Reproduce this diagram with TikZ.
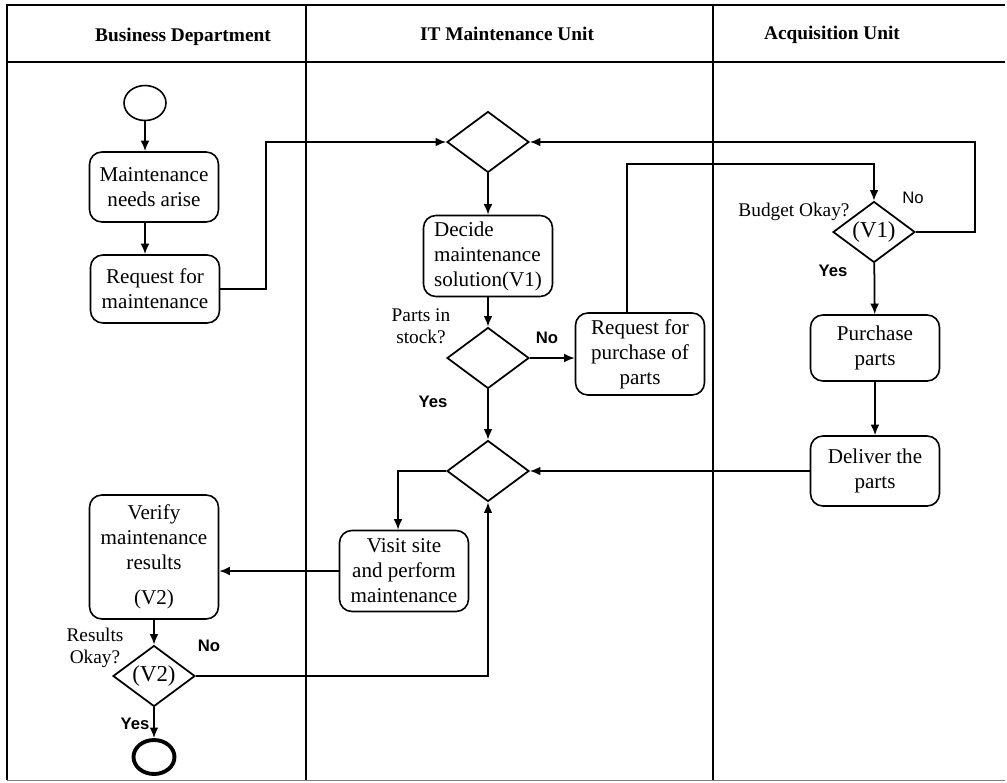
\documentclass[tikz,border=0pt]{standalone}
\usepackage{fontspec}
\setmainfont{Liberation Serif}
\setsansfont{Liberation Sans}
\usetikzlibrary{shapes.geometric,arrows.meta}

\tikzset{
  box/.style={draw,rounded corners=7pt,line width=0.9pt,minimum width=2.58cm,align=center,inner sep=2pt,font=\fontsize{12}{14.2}\selectfont},
  decision/.style={draw,diamond,aspect=1.34,minimum width=1.64cm,minimum height=1.22cm,inner sep=0pt,line width=1pt,font=\fontsize{13}{15}\selectfont},
  lane/.style={anchor=base,font=\fontsize{11}{13}\selectfont\bfseries},
  cond/.style={align=center,inner sep=0pt,font=\fontsize{11}{12.5}\selectfont},
  answer/.style={inner sep=0pt,font=\sffamily\bfseries\fontsize{9.5}{11}\selectfont},
  flow/.style={-{Latex[length=6pt,width=5pt]},line width=1pt}
}

\begin{document}
\begin{tikzpicture}[x=0.02cm,y=-0.02cm]

\useasboundingbox (0,0) rectangle (1007,782);

% swimlanes
\draw[line width=0.9pt] (1005,5)--(7,5)--(7,780);
\draw[line width=0.5pt,gray] (7,780)--(1005,780);
\draw[line width=0.9pt] (7,62)--(1005,62);
\draw[line width=0.9pt] (306,5)--(306,780);
\draw[line width=0.9pt] (713,5)--(713,780);

\node[lane] (busdept) at (183,41) {Business Department};
\node[lane] (itunit) at (507,40) {IT Maintenance Unit};
\node[lane] (acqunit) at (832,39) {Acquisition Unit};

% business department
\node[ellipse,draw,line width=0.9pt,minimum width=0.84cm,minimum height=0.7cm] (start) at (145,103) {};
\node[box,minimum height=1.4cm] (needs) at (154,187) {Maintenance\\needs arise};
\node[box,minimum height=1.36cm] (reqmaint) at (155,289) {Request for\\maintenance};
\node[box,minimum height=2.48cm] (verify) at (154,557) {Verify\\maintenance\\results\\[6pt](V2)};
\node[decision] (v2) at (154,676) {(V2)};
\node[cond] (v2q) at (95,648) {Results\\Okay?};
\node[answer] (v2no) at (209,646) {No};
\node[answer] (v2yes) at (135,724) {Yes};
\node[ellipse,draw,line width=2.2pt,minimum width=0.82cm,minimum height=0.68cm] (end) at (154,757) {};

% IT maintenance unit
\node[decision] (merge1) at (488,142) {};
\node[box,align=left,minimum height=1.62cm] (decide) at (488,256) {Decide\\maintenance\\solution(V1)};
\node[decision] (parts) at (488,358) {};
\node[cond] (partsq) at (421,326) {Parts in\\stock?};
\node[answer] (partsno) at (547,338) {No};
\node[answer] (partsyes) at (433,402) {Yes};
\node[box,minimum height=1.64cm] (reqbuy) at (640,354) {Request for\\purchase of\\parts};
\node[decision] (merge2) at (488,471) {};
\node[box,minimum height=1.62cm] (visit) at (404,571) {Visit site\\and perform\\maintenance};

% acquisition unit
\node[decision] (budget) at (874,232) {(V1)};
\node[cond] (budgetq) at (794,212) {Budget Okay?};
\node[inner sep=0pt,font=\sffamily\fontsize{9.5}{11}\selectfont] (budgetno) at (913,198) {No};
\node[answer] (budgetyes) at (833,271) {Yes};
\node[box,minimum height=1.32cm] (buy) at (875,348) {Purchase\\parts};
\node[box,minimum height=1.4cm] (deliver) at (875,471) {Deliver the\\parts};

% flows
\draw[flow] (start) -- (start |- needs.north);
\draw[flow] (needs.south -| start) -- (reqmaint.north -| start);
\draw[flow] (reqmaint.east) -- ++(46,0) |- (merge1.west);
\draw[flow] (merge1) -- (decide);
\draw[flow] (decide) -- (parts);
\draw[flow] (parts.east) -- (parts.east -| reqbuy.west);
\draw[flow] ([xshift=-0.26cm]reqbuy.north) -- ++(0,-148) -| (budget.north);
\draw[flow] (budget.east) -- ++(59,0) |- (merge1.east);
\draw[flow] (budget) -- (buy);
\draw[flow] (buy) -- (deliver);
\draw[flow] (deliver) -- (merge2);
\draw[flow] (parts) -- (merge2);
\draw[flow] (merge2.west) -| ([xshift=-0.12cm]visit.north);
\draw[flow] (visit.west) -- (visit.west -| verify.east);
\draw[flow] (verify) -- (v2);
\draw[flow] (v2.east) -| (merge2.south);
\draw[flow] (v2) -- (end);

\end{tikzpicture}
\end{document}
